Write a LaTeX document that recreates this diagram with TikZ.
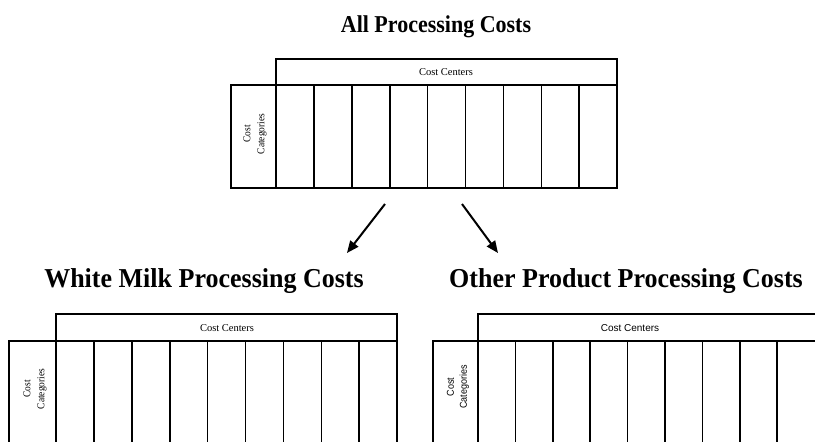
\documentclass[tikz,border=0pt]{standalone}
\usepackage{fontspec}
\setmainfont{Liberation Serif}
\newfontfamily\sansf{Liberation Sans}
\usetikzlibrary{arrows.meta}
\begin{document}
\begin{tikzpicture}[x=1pt,y=-1pt,
  grid/.style={line width=1.6pt},
  bigtitle/.style={font=\fontsize{22}{22}\selectfont\bfseries, anchor=base, inner sep=0pt},
  subtitle/.style={font=\fontsize{26}{26}\selectfont\bfseries, anchor=base, inner sep=0pt},
  small/.style={font=\fontsize{10.5}{14}\selectfont, inner sep=0pt},
  splitarrow/.style={line width=2pt, -{Triangle[length=12pt,width=10pt]}}]
\useasboundingbox (0,0) rectangle (815,442);
\clip (0,0) rectangle (815,442);
% top table
\node[bigtitle, yscale=1.1] (t0) at (436,32) {All Processing Costs};
\draw[grid] (276,59) rectangle (617,85);
\draw[grid] (231,85) rectangle (617,188);
\foreach \k in {0,...,8} \draw[grid] ({276+\k*37.9},85) -- ({276+\k*37.9},188);
\node[small] (cc0) at (446,72) {Cost Centers};
\node[small, rotate=90, align=center, xscale=0.9] (cat0) at (255,134) {Cost\\Categories};
% arrows
\coordinate (a1s) at (385,204);
\coordinate (a1e) at (347,253);
\coordinate (a2s) at (462,204);
\coordinate (a2e) at (498,253);
\draw[splitarrow] (a1s) -- (a1e);
\draw[splitarrow] (a2s) -- (a2e);
% bottom left table
\node[subtitle, yscale=1.05] (t1) at (204,287) {White Milk Processing Costs};
\draw[grid] (56,314) rectangle (397,341);
\draw[grid] (9,341) rectangle (397,470);
\foreach \k in {0,...,8} \draw[grid] ({56+\k*37.9},341) -- ({56+\k*37.9},470);
\node[small] (cc1) at (227,328) {Cost Centers};
\node[small, rotate=90, align=center, xscale=0.9] (cat1) at (35,389) {Cost\\Categories};
% bottom right table
\node[subtitle, yscale=1.05] (t2) at (626,287) {Other Product Processing Costs};
\draw[grid] (478,314) rectangle (830,341);
\draw[grid] (433,341) rectangle (830,470);
\foreach \k in {0,...,8} \draw[grid] ({478+\k*37.4},341) -- ({478+\k*37.4},470);
\node[small, font=\sansf\fontsize{10}{13}\selectfont] (cc2) at (630,328) {Cost Centers};
\node[small, font=\sansf\fontsize{10}{13}\selectfont, rotate=90, align=center, xscale=0.9] (cat2) at (458,387) {Cost\\Categories};
\end{tikzpicture}
\end{document}
